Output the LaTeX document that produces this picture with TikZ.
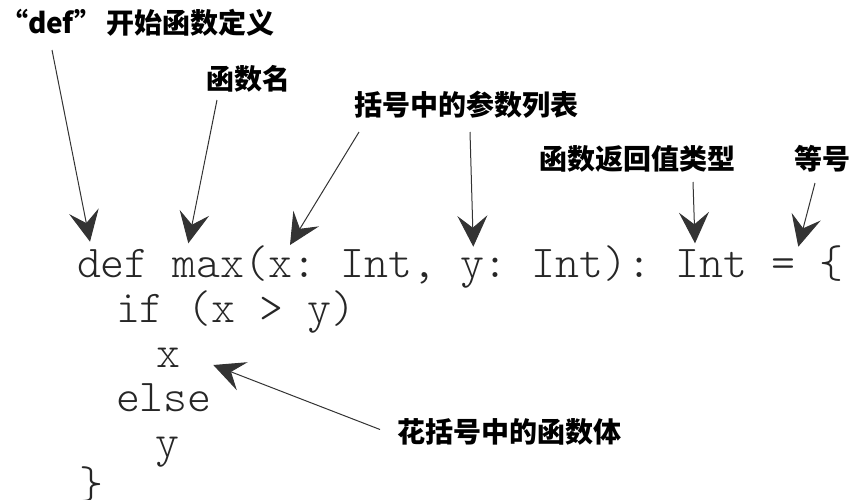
\documentclass[tikz,border=0pt]{standalone}
\usepackage{fontspec}
\newfontfamily\cjk{Noto Sans CJK SC}
\newfontfamily\codefont{lmmonolt10-regular.otf}
\usetikzlibrary{arrows.meta,positioning}
\frenchspacing

\begin{document}
\begin{tikzpicture}[x=1pt,y=-1pt,
    every node/.style={inner sep=0pt,outer sep=0pt}]
  \tikzstyle{note}=[anchor=south west,font=\cjk\bfseries\fontsize{28}{30}\selectfont]
  \tikzstyle{code}=[anchor=base west,text=black!85,font=\codefont\fontsize{45.6}{50}\selectfont]
  \tikzstyle{pointer}=[draw=black!80,line width=1pt,-{Stealth[length=31pt,width=30pt,inset=12pt]}]

  \useasboundingbox (0,0) rectangle (853,499);

  % the code
  \node[code] (l_def)  at (77,277.7)  {def max(x: Int, y: Int): Int = \{};
  \node[code] (l_if)   at (116,322)   {if (x > y)};
  \node[code] (l_x)    at (156,367)   {x};
  \node[code] (l_else) at (116,411.7) {else};
  \node[code] (l_y)    at (155,456)   {y};
  \node[code] (l_end)  at (79,498)    {\}};

  % the notes
  \node[note] (n_def)  at (0,36)    {“def”\,开始函数定义};
  \node[note] (n_name) at (206,92)  {函数名};
  \node[note] (n_args) at (354,118) {括号中的参数列表};
  \node[note] (n_ret)  at (539,172) {函数返回值类型};
  \node[note] (n_eq)   at (794,172) {等号};
  \node[note, anchor=west] (n_body) at (397,431.5) {花括号中的函数体};

  % where the arrows point
  \coordinate (t_def)  at (90,241.7);
  \coordinate (t_name) at (188.3,243.3);
  \coordinate (t_x)    at (290,245);
  \coordinate (t_y)    at (473.3,246.7);
  \coordinate (t_ret)  at (695,243.3);
  \coordinate (t_eq)   at (798.3,246.7);
  \coordinate (t_body) at (213.3,365);

  \draw[pointer] ([shift={(52,14)}]n_def.south west) -- (t_def);
  \draw[pointer] ([shift={(11,8)}]n_name.south west) -- (t_name);
  \draw[pointer] ([shift={(5,14)}]n_args.south west) -- (t_x);
  \draw[pointer] ([shift={(116,14)}]n_args.south west) -- (t_y);
  \draw[pointer] ([shift={(154,10)}]n_ret.south west) -- (t_ret);
  \draw[pointer] ([shift={(21,11)}]n_eq.south west) -- (t_eq);
  \draw[pointer] ([shift={(-17,-2)}]n_body.west) -- (t_body);
\end{tikzpicture}
\end{document}
